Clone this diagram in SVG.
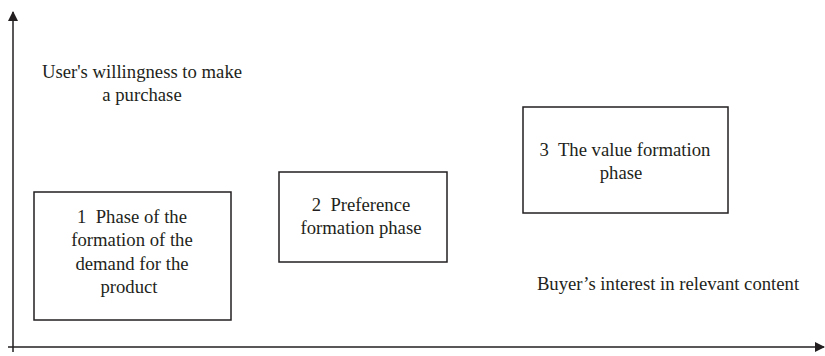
<svg xmlns="http://www.w3.org/2000/svg" width="825" height="356" viewBox="0 0 825 356">
<style>
text{font-family:"Liberation Serif","Times New Roman","DejaVu Serif",serif;font-size:18.7px;fill:#231f20;text-anchor:middle}
.box{fill:#fff;stroke:#231f20;stroke-width:1.5}
.axis{stroke:#231f20;stroke-width:1.5;fill:none}
</style>
<defs>
<marker id="ah" viewBox="0 0 10 10" refX="9" refY="5" markerWidth="10" markerHeight="10" markerUnits="userSpaceOnUse" orient="auto">
<path d="M0,0 L10,5 L0,10 z" fill="#231f20"/>
</marker>
</defs>
<g id="connectors">
<line class="axis" x1="13" y1="352" x2="13" y2="12" marker-end="url(#ah)"/>
<line class="axis" x1="8" y1="347" x2="824" y2="347" marker-end="url(#ah)"/>
</g>
<g id="label-y">
<text x="142" y="78">User's willingness to make</text>
<text x="142" y="101">a purchase</text>
</g>
<g id="node1">
<rect class="box" x="34" y="192" width="197" height="128"/>
<text x="132" y="223">1&#160; Phase of the</text>
<text x="132" y="246">formation of the</text>
<text x="132" y="270">demand for the</text>
<text x="129" y="293">product</text>
</g>
<g id="node2">
<rect class="box" x="279" y="172" width="168" height="90"/>
<text x="361" y="211">2&#160; Preference</text>
<text x="361" y="234">formation phase</text>
</g>
<g id="node3">
<rect class="box" x="523" y="107" width="205" height="106"/>
<text x="625" y="156">3&#160; The value formation</text>
<text x="621" y="179">phase</text>
</g>
<g id="label-x">
<text x="668" y="290">Buyer’s interest in relevant content</text>
</g>
</svg>
